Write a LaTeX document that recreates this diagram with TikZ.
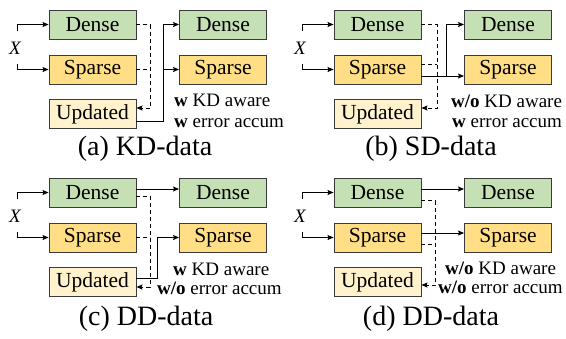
\documentclass[tikz,border=0pt]{standalone}
\usepackage{fontspec}
\setmainfont{Liberation Serif}
\usetikzlibrary{arrows.meta,calc}
\definecolor{densec}{HTML}{C5E0B4}
\definecolor{sparsec}{HTML}{FFDE85}
\definecolor{updc}{HTML}{FFF2CC}
\definecolor{edgec}{HTML}{3A3A3A}
\tikzset{
  box/.style={draw=edgec,line width=0.9pt,minimum width=87pt,minimum height=29pt,inner sep=0pt,
    font=\fontsize{21.5}{24}\selectfont},
  densebox/.style={box,fill=densec},
  sparsebox/.style={box,fill=sparsec},
  updbox/.style={box,fill=updc},
  arr/.style={line width=0.9pt,-{Stealth[length=6pt,width=5pt,inset=1pt]}},
  ln/.style={line width=0.9pt},
  dsh/.style={line width=0.9pt,dash pattern=on 4pt off 3pt},
  lbl/.style={anchor=west,inner sep=0pt,font=\fontsize{19}{22}\selectfont},
  captxt/.style={inner sep=0pt,font=\fontsize{28}{32}\selectfont},
  xlbl/.style={inner sep=0pt,font=\fontsize{19}{22}\selectfont\itshape},
}
\begin{document}
\begin{tikzpicture}[x=1pt,y=-1pt]
\useasboundingbox (0,0) rectangle (566,338);
% ---------- (a) ----------
\begin{scope}
\node[densebox]  (aD)  at (92.5,24.5) {Dense};
\node[sparsebox] (aS)  at (92.5,69.5) {Sparse};
\node[updbox]    (aU)  at (92.5,114)  {Updated};
\node[densebox]  (aRD) at (223,24.5)  {Dense};
\node[sparsebox] (aRS) at (223,69.5)  {Sparse};
\node[xlbl] (aX) at (15,48) {X};
\coordinate (aI1) at (17,31);
\coordinate (aI2) at (17,64);
\draw[arr] (aI1) |- (aD.west);
\draw[arr] (aI2) |- (aS.west);
\draw[dsh,-{Stealth[length=6pt,width=5pt,inset=1pt]}] (aD.east) -- ++(14,0) |- ([yshift=6pt]aU.east);
\draw[dsh] (aS.east) -- ++(14,0);
\draw[arr] ([yshift=-7pt]aU.east) -- ++(27,0) coordinate (aj) |- (aRD.west);
\draw[arr] (aj |- aRS.west) -- (aRS.west);
\node[lbl] (aL1) at (174,100) {\textbf{w} KD aware};
\node[lbl] (aL2) at (174,123) {\textbf{w} error accum};
\node[captxt] (aC) at (145,149) {(a) KD-data};
\end{scope}
% ---------- (b) ----------
\begin{scope}[shift={(285pt,0pt)}]
\node[densebox]  (bD)  at (92.5,24.5) {Dense};
\node[sparsebox] (bS)  at (92.5,69.5) {Sparse};
\node[updbox]    (bU)  at (92.5,114)  {Updated};
\node[densebox]  (bRD) at (223,24.5)  {Dense};
\node[sparsebox] (bRS) at (223,69.5)  {Sparse};
\node[xlbl] (bX) at (15,48) {X};
\coordinate (bI1) at (17,31);
\coordinate (bI2) at (17,64);
\draw[arr] (bI1) |- (bD.west);
\draw[arr] (bI2) |- (bS.west);
\draw[dsh,-{Stealth[length=6pt,width=5pt,inset=1pt]}] (bD.east) -- ++(16,0) |- ([yshift=6pt]bU.east);
\draw[dsh] ([yshift=5.5pt]bS.east) -- ++(16,0);
\draw[arr] ([yshift=-6.5pt]bS.east) -- ++(25,0) coordinate (bj) |- (bRD.west);
\draw[arr] (bj) -- (bRS.west |- bj);
\node[lbl] (bL1) at (166,101) {\textbf{w/o} KD aware};
\node[lbl] (bL2) at (167,123) {\textbf{w} error accum};
\node[captxt] (bC) at (146,149) {(b) SD-data};
\end{scope}
% ---------- (c) ----------
\begin{scope}[shift={(0pt,-168pt)}]
\node[densebox]  (cD)  at (92.5,24.5) {Dense};
\node[sparsebox] (cS)  at (92.5,69.5) {Sparse};
\node[updbox]    (cU)  at (92.5,114)  {Updated};
\node[densebox]  (cRD) at (223,24.5)  {Dense};
\node[sparsebox] (cRS) at (223,69.5)  {Sparse};
\node[xlbl] (cX) at (15,48) {X};
\coordinate (cI1) at (17,31);
\coordinate (cI2) at (17,64);
\draw[arr] (cI1) |- (cD.west);
\draw[arr] (cI2) |- (cS.west);
\draw[arr] ([yshift=3.5pt]cD.east) -- ([yshift=3.5pt]cRD.west);
\draw[dsh,-{Stealth[length=6pt,width=5pt,inset=1pt]}] ([yshift=-3.5pt]cD.east) -- ++(14,0) |- ([yshift=-5pt]cU.east);
\draw[dsh] (cS.east) -- ++(14,0);
\draw[arr] ([yshift=4pt]cU.east) -- ++(21,0) |- (cRS.west);
\node[lbl] (cL1) at (173,101) {\textbf{w} KD aware};
\node[lbl] (cL2) at (157,120) {\textbf{w/o} error accum};
\node[captxt] (cC) at (146,151) {(c) DD-data};
\end{scope}
% ---------- (d) ----------
\begin{scope}[shift={(285pt,-168pt)}]
\node[densebox]  (dD)  at (92.5,24.5) {Dense};
\node[sparsebox] (dS)  at (92.5,69.5) {Sparse};
\node[updbox]    (dU)  at (92.5,114)  {Updated};
\node[densebox]  (dRD) at (223,24.5)  {Dense};
\node[sparsebox] (dRS) at (223,69.5)  {Sparse};
\node[xlbl] (dX) at (15,48) {X};
\coordinate (dI1) at (17,31);
\coordinate (dI2) at (17,64);
\draw[arr] (dI1) |- (dD.west);
\draw[arr] (dI2) |- (dS.west);
\draw[arr] ([yshift=3.5pt]dD.east) -- ([yshift=3.5pt]dRD.west);
\draw[dsh,-{Stealth[length=6pt,width=5pt,inset=1pt]}] ([yshift=-8pt]dD.east) -- ++(14,0) |- ([yshift=-3pt]dU.east);
\draw[arr] ([yshift=4.5pt]dS.east) -- ([yshift=4.5pt]dRS.west);
\draw[dsh] ([yshift=-6.5pt]dS.east) -- ++(14,0);
\node[lbl] (dL1) at (160,100) {\textbf{w/o} KD aware};
\node[lbl] (dL2) at (153,119) {\textbf{w/o} error accum};
\node[captxt] (dC) at (146,151) {(d) DD-data};
\end{scope}
\end{tikzpicture}
\end{document}
